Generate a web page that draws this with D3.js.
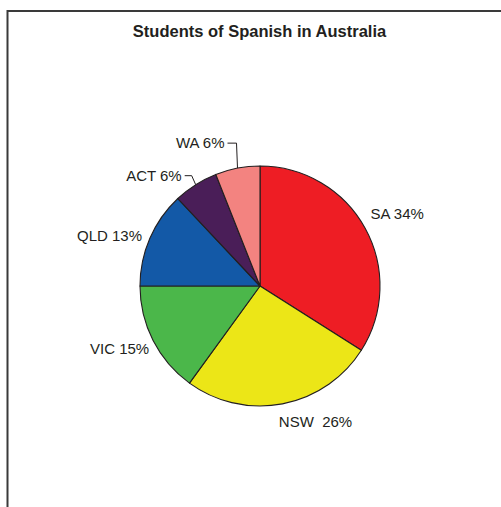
<!DOCTYPE html>
<html>
<head>
<meta charset="utf-8">
<script src="https://cdn.jsdelivr.net/npm/d3@7"></script>
<style>
  html, body { margin: 0; padding: 0; background: #fff; }
  svg { display: block; }
  text { font-family: "Liberation Sans", Arial, Helvetica, sans-serif; fill: #231F20; }
</style>
</head>
<body>
<svg id="chart" width="501" height="507"></svg>
<script>
// Share of students of Spanish by state / territory
const states = ["SA", "NSW", "VIC", "QLD", "ACT", "WA"];
const shares = [34, 26, 15, 13, 6, 6];
const sliceColors = ["#EE1D24", "#ECE617", "#4BB74A", "#1359A7", "#4A1E58", "#F38380"];
const labelTexts = ["SA 34%", "NSW  26%", "VIC 15%", "QLD 13%", "ACT 6%", "WA 6%"];

const W = 501, H = 507;
const cx = 260, cy = 286, R = 120;

const svg = d3.select("#chart");

// outer frame (runs past the right and bottom edges of the view)
svg.append("rect")
  .attr("x", 7.5).attr("y", 11)
  .attr("width", 700).attr("height", 700)
  .attr("fill", "none")
  .attr("stroke", "#3a3a3a")
  .attr("stroke-width", 2);

svg.append("text")
  .attr("x", 259.5).attr("y", 37)
  .attr("text-anchor", "middle")
  .attr("font-size", "16.5px")
  .attr("font-weight", "bold")
  .text("Students of Spanish in Australia");

const data = states.map((s, i) => ({ state: s, value: shares[i], color: sliceColors[i], label: labelTexts[i] }));

const pie = d3.pie().value(d => d.value).sort(null);
const arcs = pie(data);
const arc = d3.arc().innerRadius(0).outerRadius(R);

const g = svg.append("g").attr("transform", `translate(${cx},${cy})`);

g.selectAll("path.slice")
  .data(arcs)
  .join("path")
  .attr("class", "slice")
  .attr("d", arc)
  .attr("fill", d => d.data.color)
  .attr("stroke", "#231F20")
  .attr("stroke-width", 1.1)
  .attr("stroke-linejoin", "round");

// label placement around the pie
const labelR = 152;
const nudges = { SA: [4, 1], NSW: [27, -14], VIC: [-5, -6], QLD: [-11, 10] };
// small slices get a leader line: elbow offset from the rim point, then a short tail
const leaders = { ACT: { elbow: [-4, -9], tail: -7 }, WA: { elbow: [-1, -25], tail: -9 } };

const mid = d => (d.startAngle + d.endAngle) / 2;

arcs.forEach(d => {
  const a = mid(d);
  const s = d.data.state;
  if (leaders[s]) {
    const L = leaders[s];
    const p0 = [R * Math.sin(a), -R * Math.cos(a)];
    const p1 = [p0[0] + L.elbow[0], p0[1] + L.elbow[1]];
    const p2 = [p1[0] + L.tail, p1[1]];
    g.append("path")
      .attr("d", d3.line()([p0, p1, p2]))
      .attr("fill", "none")
      .attr("stroke", "#231F20")
      .attr("stroke-width", 1);
    g.append("text")
      .attr("x", p2[0] - 3).attr("y", p2[1])
      .attr("dy", "0.35em")
      .attr("text-anchor", "end")
      .attr("font-size", "15px")
      .style("white-space", "pre")
      .text(d.data.label);
  } else {
    const n = nudges[s] || [0, 0];
    g.append("text")
      .attr("x", labelR * Math.sin(a) + n[0])
      .attr("y", -labelR * Math.cos(a) + n[1])
      .attr("dy", "0.35em")
      .attr("text-anchor", "middle")
      .attr("font-size", "15px")
      .style("white-space", "pre")
      .text(d.data.label);
  }
});
</script>
</body>
</html>
